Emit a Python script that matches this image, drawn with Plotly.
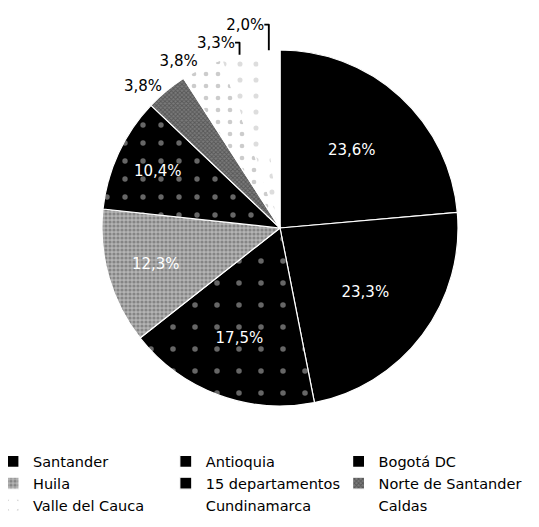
import plotly.graph_objects as go

labels = ["Santander", "Antioquia", "Bogotá DC", "Huila", "15 departamentos",
          "Norte de Santander", "Valle del Cauca", "Cundinamarca", "Caldas"]
values = [23.6, 23.3, 17.5, 12.3, 10.4, 3.8, 3.8, 3.3, 2.0]

colors = ["#000000", "#000000", "#000000", "#b4b4b4", "#000000",
          "#7a7a7a", "#ffffff", "#ffffff", "#ffffff"]
pat_shapes = ["", "", ".", ".", ".", "x", ".", ".", ""]
pat_fg = ["#000", "#000", "#cccccc", "#555555", "#cccccc", "#333333", "#999999", "#bbbbbb", "#000"]
pat_size = [8, 8, 22, 4, 18, 3, 12, 16, 8]
pat_sol = [0.1, 0.1, 0.05, 0.5, 0.07, 0.5, 0.12, 0.08, 0.1]
textpos = ["inside"] * 5 + ["outside"] * 4
textcol = ["#ffffff"] * 5 + ["#000000"] * 4

fig = go.Figure(go.Pie(
    labels=labels, values=values, sort=False, direction="clockwise", rotation=0,
    marker=dict(colors=colors, line=dict(color="#ffffff", width=1.2),
                pattern=dict(shape=pat_shapes, fgcolor=pat_fg, size=pat_size,
                             solidity=pat_sol, fillmode="overlay")),
    texttemplate="%{value:.1f}%", textposition=textpos,
    insidetextorientation="horizontal",
    textfont=dict(color=textcol, size=15, family="DejaVu Sans"),
    domain=dict(x=[0.1744, 0.8349], y=[0.2448, 0.9203]),
    showlegend=True,
))

fig.update_layout(
    width=539, height=527, separators=",.",
    margin=dict(l=0, r=0, t=0, b=0),
    paper_bgcolor="white", plot_bgcolor="white",
    font=dict(family="DejaVu Sans", size=14.5, color="#000"),
    legend=dict(orientation="h", x=0.0, xanchor="left",
                y=0.17, yanchor="top", indentation=-15,
                traceorder="normal",
                font=dict(size=14.5), itemwidth=30, tracegroupgap=0),
)

fig.write_html("out.html")
